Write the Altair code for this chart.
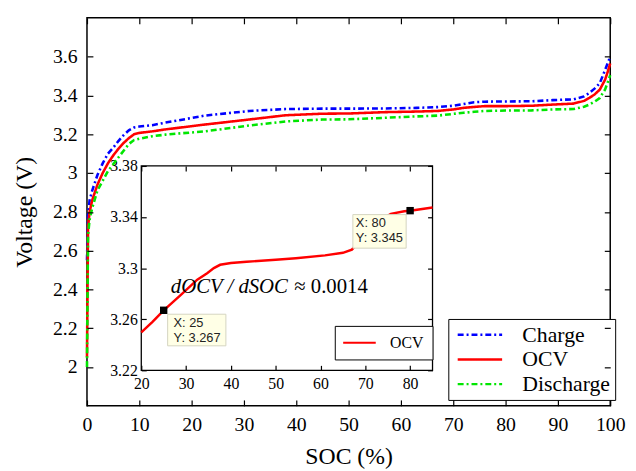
import altair as alt
import pandas as pd

SERIF = "Liberation Serif"
SANS = "Liberation Sans"

# ---------------- main curves ----------------
soc = [0, 0.2, 0.5, 1, 2, 3, 4, 5, 6, 7, 8, 9, 10, 12.5, 15, 22.5, 31, 38, 45, 50,
       57, 63, 67, 70, 72, 74, 76, 80, 85, 89, 93, 95, 96, 97, 98, 99, 99.5, 100]
v_charge = [2.55, 2.78, 2.86, 2.91, 2.99, 3.05, 3.10, 3.13, 3.165, 3.195, 3.22, 3.235, 3.24,
            3.247, 3.26, 3.296, 3.32, 3.33, 3.332, 3.332, 3.333, 3.336, 3.34, 3.347, 3.356,
            3.365, 3.368, 3.369, 3.37, 3.376, 3.38, 3.395, 3.413, 3.435, 3.463, 3.53, 3.565, 3.6]
v_ocv = [2.05, 2.72, 2.80, 2.86, 2.94, 3.00, 3.05, 3.09, 3.125, 3.155, 3.18, 3.20, 3.207,
         3.215, 3.225, 3.25, 3.276, 3.298, 3.306, 3.307, 3.314, 3.317, 3.32, 3.328, 3.336,
         3.341, 3.345, 3.345, 3.347, 3.353, 3.358, 3.372, 3.387, 3.405, 3.43, 3.48, 3.52, 3.565]
v_discharge = [2.0, 2.68, 2.76, 2.82, 2.91, 2.96, 3.01, 3.045, 3.08, 3.115, 3.15, 3.17, 3.177,
               3.19, 3.198, 3.215, 3.245, 3.266, 3.276, 3.277, 3.285, 3.292, 3.296, 3.305, 3.311,
               3.316, 3.32, 3.322, 3.323, 3.328, 3.33, 3.342, 3.353, 3.368, 3.387, 3.43, 3.465, 3.505]

series_names = ["Charge", "OCV", "Discharge"]
series_colors = ["#0000ff", "#ff0000", "#00e600"]
series_dashes = [[6, 3, 2, 3], [1, 0], [6, 3, 2, 3]]

x_ticks = [0, 10, 20, 30, 40, 50, 60, 70, 80, 90, 100]
y_ticks = [2, 2.2, 2.4, 2.6, 2.8, 3, 3.2, 3.4, 3.6]
X_DOMAIN = [0, 100]
Y_DOMAIN = [1.8, 3.8]

# ---------------- inset ----------------
inset_soc = [20, 22.5, 25, 28.9, 32.5, 34.7, 36.2, 37.6, 40, 43.5, 50, 54.5, 61, 65, 67,
             70, 73, 75.7, 78.7, 80, 85]
inset_ocv = [3.2497, 3.258, 3.267, 3.2793, 3.291, 3.296, 3.300, 3.3026, 3.304, 3.305, 3.3065,
             3.3078, 3.310, 3.312, 3.3145, 3.326, 3.337, 3.3425, 3.3445, 3.345, 3.3475]
inset_x_ticks = [20, 30, 40, 50, 60, 70, 80]
inset_y_ticks = [3.22, 3.26, 3.30, 3.34, 3.38]
IN_X_DOMAIN = [20, 85]
IN_Y_DOMAIN = [3.22, 3.38]

tip_x = [25, 80]
tip_y = [3.267, 3.345]
annot_x = [26.6]
annot_y = [3.2806]

W, H = 530, 393
IN_RANGE_X = [55, 350]
IN_RANGE_Y = [357, 150]

main_df = pd.DataFrame({
    "soc": soc * 3,
    "v": v_charge + v_ocv + v_discharge,
    "series": [s for s in series_names for _ in soc],
})
inset_df = pd.DataFrame({"isoc": inset_soc, "iv": inset_ocv, "name": ["OCV"] * len(inset_soc)})
frame_df = pd.DataFrame({"x": [IN_X_DOMAIN[0]], "x2": [IN_X_DOMAIN[1]],
                         "y": [IN_Y_DOMAIN[0]], "y2": [IN_Y_DOMAIN[1]]})
tips_df = pd.DataFrame({"tx": tip_x, "ty": tip_y,
                        "label": [f"X: {a}\nY: {b}" for a, b in zip(tip_x, tip_y)]})
annot_df = pd.DataFrame({"ax": annot_x, "ay": annot_y})


def mxs():
    return alt.Scale(domain=X_DOMAIN, nice=False, zero=False)


def mys():
    return alt.Scale(domain=Y_DOMAIN, nice=False, zero=False)


def ixs():
    return alt.Scale(domain=IN_X_DOMAIN, range=IN_RANGE_X, nice=False, zero=False)


def iys():
    return alt.Scale(domain=IN_Y_DOMAIN, range=IN_RANGE_Y, nice=False, zero=False)


def tick_axis(orient, offset, values, size=6):
    return alt.Axis(orient=orient, offset=offset, values=values, labels=False, domain=False,
                    ticks=True, tickSize=size, tickColor="black", tickWidth=1.2, grid=False,
                    title=None, zindex=2, minExtent=0, maxExtent=0)


# ---- main lines with labelled axes and legend ----
main_legend = alt.Legend(
    orient="none", legendX=366, legendY=305, title=None,
    strokeColor="black", fillColor="white", padding=5, cornerRadius=0,
    labelFont=SERIF, labelFontSize=22, labelColor="black", labelLimit=0,
    symbolType="M-2.8125,0H2.8125", symbolSize=256, symbolStrokeWidth=2.5,
    symbolOffset=16, labelOffset=32, rowPadding=3,
)
lines = alt.Chart(main_df).mark_line(strokeWidth=2.6).encode(
    x=alt.X("soc:Q", scale=mxs(), axis=alt.Axis(
        orient="bottom", values=x_ticks, ticks=False, domain=False, grid=False,
        labelFont=SERIF, labelFontSize=20, labelColor="black", labelPadding=9, labelFlush=False,
        title="SOC (%)", titleFont=SERIF, titleFontSize=24, titleFontWeight="normal",
        titleColor="black", titlePadding=10)),
    y=alt.Y("v:Q", scale=mys(), axis=alt.Axis(
        orient="left", values=y_ticks, format="~g", ticks=False, domain=False, grid=False,
        labelFont=SERIF, labelFontSize=20, labelColor="black", labelPadding=10, labelFlush=False,
        title="Voltage (V)", titleFont=SERIF, titleFontSize=24, titleFontWeight="normal",
        titleColor="black", titlePadding=16)),
    color=alt.Color("series:N", scale=alt.Scale(domain=series_names, range=series_colors),
                    legend=main_legend),
    strokeDash=alt.StrokeDash("series:N", scale=alt.Scale(domain=series_names, range=series_dashes),
                              legend=main_legend),
)

main_ticks_a = alt.Chart(main_df).mark_point(opacity=0).encode(
    x=alt.X("soc:Q", scale=mxs(), axis=tick_axis("bottom", -6, x_ticks)),
    y=alt.Y("v:Q", scale=mys(), axis=tick_axis("left", -6, y_ticks)),
)
main_ticks_b = alt.Chart(main_df).mark_point(opacity=0).encode(
    x=alt.X("soc:Q", scale=mxs(), axis=tick_axis("top", -6, x_ticks)),
    y=alt.Y("v:Q", scale=mys(), axis=tick_axis("right", -6, y_ticks)),
)

# ---- inset ----
ib = IN_RANGE_Y[0]
it = IN_RANGE_Y[1]
il = IN_RANGE_X[0]
ir = IN_RANGE_X[1]
inset_frame = alt.Chart(frame_df).mark_rect(fill="white", stroke="black", strokeWidth=1.3).encode(
    x=alt.X("x:Q", scale=ixs(), axis=alt.Axis(
        orient="bottom", offset=ib - H, values=inset_x_ticks, ticks=False, domain=False, grid=False,
        labelFont=SERIF, labelFontSize=16, labelColor="black", labelPadding=5, labelFlush=False,
        title=None, minExtent=0, maxExtent=0)),
    x2="x2:Q",
    y=alt.Y("y:Q", scale=iys(), axis=alt.Axis(
        orient="left", offset=-il, values=inset_y_ticks, format="~g", ticks=False, domain=False,
        grid=False, labelFont=SERIF, labelFontSize=16, labelColor="black", labelPadding=4,
        labelFlush=False, title=None, minExtent=0, maxExtent=0)),
    y2="y2:Q",
)
inset_ticks_a = alt.Chart(frame_df).mark_point(opacity=0).encode(
    x=alt.X("x:Q", scale=ixs(), axis=tick_axis("bottom", (ib - 5) - H, inset_x_ticks, 5)),
    y=alt.Y("y:Q", scale=iys(), axis=tick_axis("left", -(il + 5), inset_y_ticks, 5)),
)
inset_ticks_b = alt.Chart(frame_df).mark_point(opacity=0).encode(
    x=alt.X("x:Q", scale=ixs(), axis=tick_axis("top", -(it + 5), inset_x_ticks, 5)),
    y=alt.Y("y:Q", scale=iys(), axis=tick_axis("right", (ir - 5) - W, inset_y_ticks, 5)),
)
inset_legend = alt.Legend(
    orient="none", legendX=251, legendY=312, title=None,
    strokeColor="black", fillColor="white", padding=9, cornerRadius=0,
    labelFont=SERIF, labelFontSize=16, labelColor="black",
    symbolType="M-2.75,0H2.75", symbolSize=144, symbolStrokeWidth=2,
    symbolOffset=8, labelOffset=23,
)
inset_line = alt.Chart(inset_df).mark_line(strokeWidth=2.5).encode(
    x=alt.X("isoc:Q", scale=ixs(), axis=None),
    y=alt.Y("iv:Q", scale=iys(), axis=None),
    color=alt.Color("name:N", scale=alt.Scale(domain=["OCV"], range=["#ff0000"]),
                    legend=inset_legend),
)

tip1 = tips_df.iloc[[0]]
tip2 = tips_df.iloc[[1]]


def tip_layers(df, x_off, x2_off, y_off, y2_off, dx):
    box = alt.Chart(df).mark_rect(fill="#ffffe6", stroke="#d4d4c0", strokeWidth=1,
                                  xOffset=x_off, x2Offset=x2_off,
                                  yOffset=y_off, y2Offset=y2_off).encode(
        x=alt.X("tx:Q", scale=ixs(), axis=None), x2="tx:Q",
        y=alt.Y("ty:Q", scale=iys(), axis=None), y2="ty:Q",
    )
    txt = alt.Chart(df).mark_text(align="left", baseline="top", dx=dx, dy=y_off + 3,
                                  lineBreak="\n", lineHeight=15, font=SANS, fontSize=13,
                                  color="#222222").encode(
        x=alt.X("tx:Q", scale=ixs(), axis=None),
        y=alt.Y("ty:Q", scale=iys(), axis=None),
        text="label:N",
    )
    return [box, txt]


markers = alt.Chart(tips_df).mark_square(size=56, color="black", opacity=1).encode(
    x=alt.X("tx:Q", scale=ixs(), axis=None),
    y=alt.Y("ty:Q", scale=iys(), axis=None),
)

annot1 = alt.Chart(annot_df).mark_text(
    text="dOCV / dSOC", align="left", baseline="alphabetic", font=SERIF, fontSize=21,
    fontStyle="italic", color="black").encode(
    x=alt.X("ax:Q", scale=ixs(), axis=None),
    y=alt.Y("ay:Q", scale=iys(), axis=None),
)
annot2 = alt.Chart(annot_df).mark_text(
    text="\u2248 0.0014", align="left", baseline="alphabetic", font=SERIF, fontSize=21,
    dx=125, color="black").encode(
    x=alt.X("ax:Q", scale=ixs(), axis=None),
    y=alt.Y("ay:Q", scale=iys(), axis=None),
)

layers = [lines, main_ticks_a, main_ticks_b, inset_frame, inset_ticks_a, inset_ticks_b,
          inset_line]
layers += tip_layers(tip1, 4, 63, 4, 36, 10)
layers += tip_layers(tip2, -58, -4, 4, 38, -55)
layers += [markers, annot1, annot2]

chart = alt.layer(*layers).resolve_scale(
    x="independent", y="independent", color="independent", strokeDash="independent"
).resolve_axis(
    x="independent", y="independent"
).resolve_legend(
    color="independent", strokeDash="independent"
).properties(
    width=W, height=H,
    autosize=alt.AutoSizeParams(type="none"),
    padding={"left": 80, "top": 7, "right": 18, "bottom": 63},
    background="white",
).configure_view(stroke="black", strokeWidth=1.5)

chart.save("out.html", embed_options={"renderer": "svg", "actions": False})
